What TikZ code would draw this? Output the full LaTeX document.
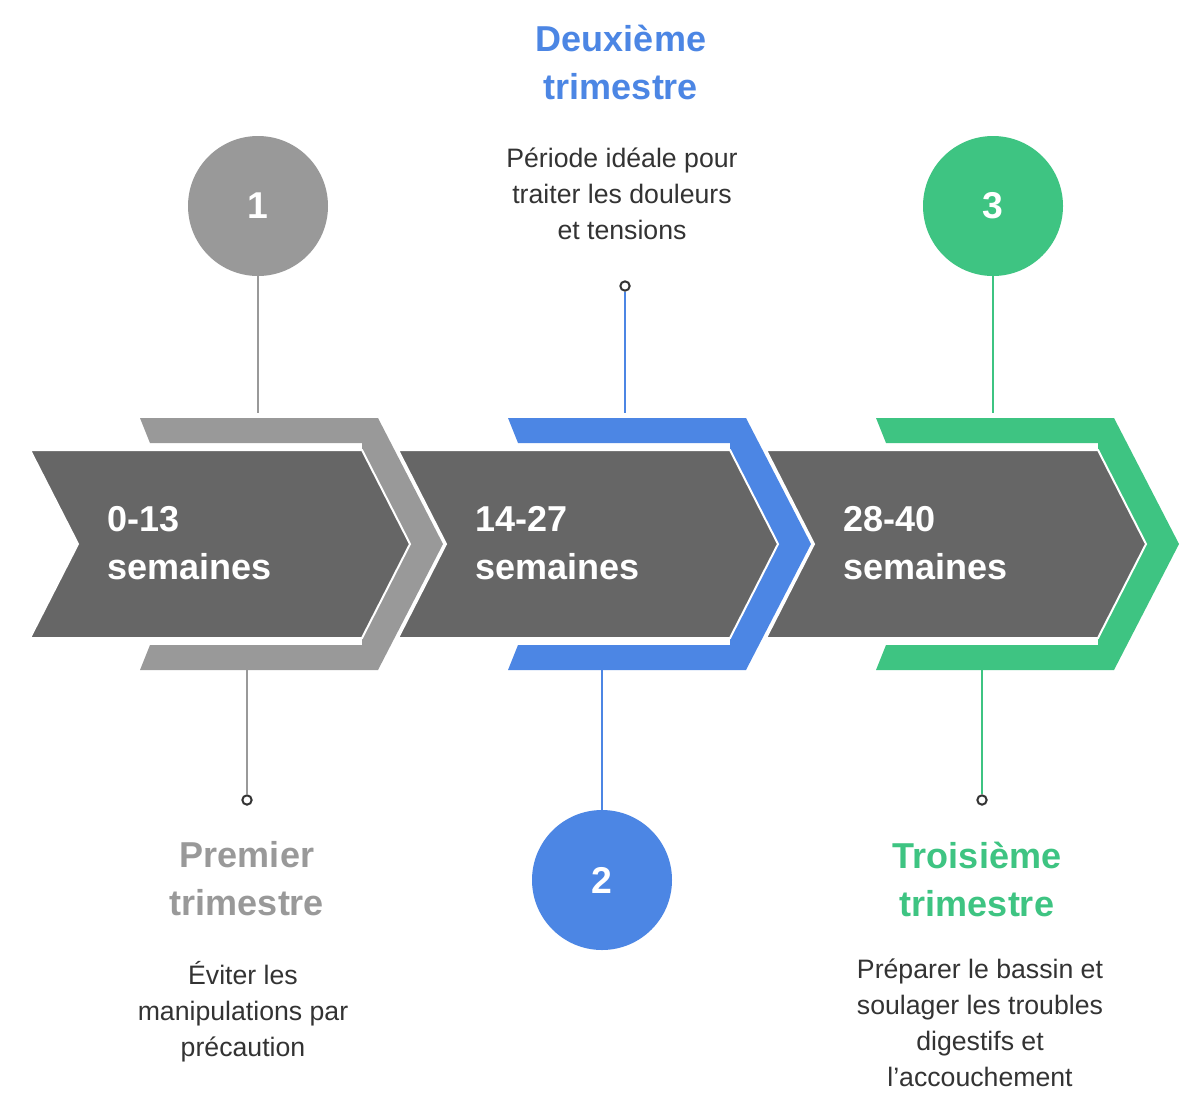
\documentclass[tikz,border=0pt]{standalone}
\usepackage{fontspec}
\setmainfont{Liberation Sans}
\begin{document}
\definecolor{cgray}{HTML}{999999}
\definecolor{cdark}{HTML}{666666}
\definecolor{cblue}{HTML}{4C86E4}
\definecolor{cgreen}{HTML}{3EC482}
\definecolor{ctext}{HTML}{333333}
\begin{tikzpicture}[x=0.75pt,y=-0.75pt,
  big/.style={font=\fontsize{27}{36}\selectfont\bfseries},
  desc/.style={font=\fontsize{20}{27}\selectfont,text=ctext,align=center},
  num/.style={circle,minimum size=105pt,inner sep=0pt,text=white,font=\fontsize{28}{34}\selectfont\bfseries},
  dot/.style={circle,draw=ctext,line width=1.5pt,fill=white,minimum size=7pt,inner sep=0pt},
  conn/.style={line width=2.2pt}]
\useasboundingbox (0,0) rectangle (1185,1115);
\fill[white] (0,0) rectangle (1185,1115);
\foreach \dx/\c in {0/cgray,368/cblue,736/cgreen}{
  \fill[\c] (140+\dx,418) -- (378+\dx,418) -- (443+\dx,544) -- (378+\dx,670) -- (140+\dx,670) -- (150+\dx,645) -- (362+\dx,645) -- (362+\dx,443) -- (150+\dx,443) -- cycle;
  \fill[cdark,draw=white,line width=1.5pt] (30+\dx,450) -- (362+\dx,450) -- (410+\dx,544) -- (362+\dx,638) -- (30+\dx,638) -- (78+\dx,544) -- cycle;
}
\node[big,text=white,align=left,anchor=west] (s1) at (103,543) {0-13\\semaines};
\node[big,text=white,align=left,anchor=west] (s2) at (471,543) {14-27\\semaines};
\node[big,text=white,align=left,anchor=west] (s3) at (839,543) {28-40\\semaines};
\node[num,fill=cgray] (n1) at (258,206) {1};
\node[num,fill=cblue] (n2) at (602,880) {2};
\node[num,fill=cgreen] (n3) at (993,206) {3};
\coordinate (a1) at (258,413);
\coordinate (b1) at (247,670);
\node[dot] (d1) at (247,800) {};
\coordinate (a2) at (625,413);
\node[dot] (d2) at (625,286) {};
\coordinate (b2) at (602,670);
\coordinate (a3) at (993,413);
\coordinate (b3) at (982,670);
\node[dot] (d3) at (982,800) {};
\draw[conn,cgray] (n1) -- (a1);
\draw[conn,cgray] (b1) -- (d1);
\draw[conn,cblue] (d2) -- (a2);
\draw[conn,cblue] (b2) -- (n2);
\draw[conn,cgreen] (n3) -- (a3);
\draw[conn,cgreen] (b3) -- (d3);
\node[big,text=cblue,align=center] (t2) at (621,62) {Deuxième\\trimestre};
\node[big,text=cgray,align=center] (t1) at (247,879) {Premier\\trimestre};
\node[big,text=cgreen,align=center] (t3) at (977,879) {Troisième\\trimestre};
\node[desc] (e2) at (622,194) {Période idéale pour\\traiter les douleurs\\et tensions};
\node[desc] (e1) at (243,1012) {Éviter les\\manipulations par\\précaution};
\node[desc] (e3) at (980,1023) {Préparer le bassin et\\soulager les troubles\\digestifs et\\l'accouchement};
\end{tikzpicture}
\end{document}
